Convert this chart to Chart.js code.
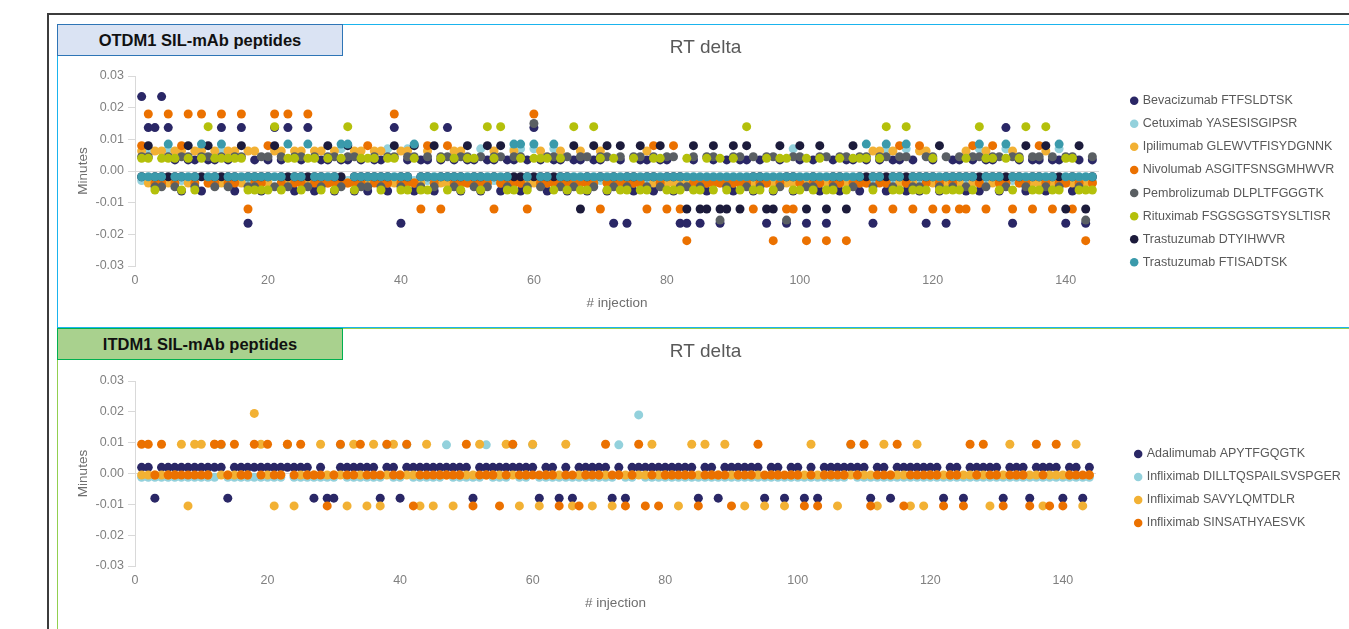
<!DOCTYPE html>
<html>
<head>
<meta charset="utf-8">
<script src="https://cdn.jsdelivr.net/npm/chart.js@4.4.0/dist/chart.umd.min.js"></script>
<style>
html, body { margin: 0; padding: 0; width: 1349px; height: 629px; overflow: hidden; background: #fff; }
body { font-family: "Liberation Sans", Arial, sans-serif; position: relative; }
#frame { position: absolute; left: 47px; top: 13px; width: 1400px; height: 700px; border: 2px solid #3c3c3c; }
.panel { position: absolute; left: 57px; width: 1320px; overflow: hidden; background: #fff; }
#p1 { top: 24px; height: 302px; border: 1px solid #1ab4ee; }
#p2 { top: 328px; height: 320px; border: 1px solid #92d050; }
.panel canvas { display: block; }
.tag { position: absolute; left: 57px; width: 284px; height: 30px; line-height: 30px; text-align: center;
       font-weight: bold; font-size: 16.5px; color: #111; z-index: 2; }
#t1 { top: 24px; background: #dae3f3; border: 1px solid #2e75b6; }
#t2 { top: 328px; background: #a9d18e; border: 1px solid #00b050; }
</style>
</head>
<body>
<div id="frame"></div>
<div class="panel" id="p1"><canvas id="otdm" width="1300" height="302"></canvas></div>
<div class="tag" id="t1">OTDM1 SIL-mAb peptides</div>
<div class="panel" id="p2"><canvas id="itdm" width="1300" height="300"></canvas></div>
<div class="tag" id="t2">ITDM1 SIL-mAb peptides</div>
<script>
// RT delta (minutes) per injection, one value per injection 1..144

// --- OTDM1 ---
const otdmLabels = ['Bevacizumab FTFSLDTSK', 'Cetuximab YASESISGIPSR', 'Ipilimumab GLEWVTFISYDGNNK',
  'Nivolumab ASGITFSNSGMHWVR', 'Pembrolizumab DLPLTFGGGTK', 'Rituximab FSGSGSGTSYSLTISR',
  'Trastuzumab DTYIHWVR', 'Trastuzumab FTISADTSK'];
const otdmColors = ['#2a2766', '#93d1dc', '#f2b134', '#eb7100', '#5a5f63', '#b4c00b', '#1c1b3b', '#3a9aab'];

const bevacizumab = [
  0.0235,0.0137,0.0137,0.0235,0.0137,0.0035,-0.0063,0.0035,0.0035,-0.0063,0.0035,0.0035,
  0.0137,0.0035,-0.0063,0.0137,-0.0165,0.0035,-0.0063,0.0035,0.0137,0.0035,0.0137,-0.0063,
  0.0035,0.0137,-0.0063,0.0035,0.0035,-0.0063,0.0035,0.0035,-0.0063,0.0035,-0.0063,0.0035,
  0.0035,-0.0063,0.0137,-0.0165,0.0035,-0.0063,0.0035,0.0035,-0.0063,0.0035,0.0137,0.0035,
  -0.0063,0.0035,0.0035,-0.0063,0.0035,0.0035,-0.0063,0.0035,0.0035,-0.0063,0.0035,0.0137,
  0.0035,-0.0063,0.0035,0.0035,-0.0063,0.0035,0.0035,-0.0063,0.0035,0.0035,-0.0063,-0.0165,
  0.0035,-0.0165,-0.0063,0.0035,0.0035,-0.0063,0.0035,0.0035,-0.0063,-0.0165,-0.0165,0.0035,
  -0.0165,-0.0063,0.0035,-0.0165,0.0035,-0.0063,0.0035,0.0035,-0.0063,0.0035,-0.0165,-0.0063,
  0.0035,-0.0165,-0.0063,0.0035,-0.0165,0.0035,-0.0063,-0.0165,0.0035,-0.0063,0.0035,0.0035,
  -0.0063,0.0035,-0.0165,0.0035,-0.0063,0.0035,0.0035,-0.0063,0.0035,-0.0063,-0.0165,0.0035,
  -0.0063,-0.0165,0.0035,0.0035,-0.0063,0.0035,-0.0063,0.0035,0.0035,-0.0063,0.0137,-0.0165,
  0.0035,-0.0063,0.0035,0.0035,-0.0063,0.0035,0.0035,-0.0165,-0.0063,0.0035,-0.0165,0.0035];

const cetuximab = [
  -0.003,0.007,-0.003,-0.003,0.007,-0.003,-0.003,-0.003,-0.003,0.007,-0.003,-0.003,
  0.007,-0.003,-0.003,-0.003,-0.003,-0.003,-0.003,-0.003,0.007,-0.003,-0.003,-0.003,
  -0.003,-0.003,-0.003,-0.003,-0.003,-0.003,0.007,-0.003,-0.003,-0.003,-0.003,-0.003,
  -0.003,0.007,-0.003,-0.003,0.007,-0.003,-0.003,-0.003,-0.003,-0.003,-0.003,-0.003,
  -0.003,-0.003,-0.003,0.007,-0.003,-0.003,-0.003,-0.003,0.007,0.007,-0.003,0.007,
  -0.003,-0.003,0.007,-0.003,-0.003,-0.003,-0.003,-0.003,-0.003,-0.003,-0.003,-0.003,
  -0.003,-0.003,-0.003,-0.003,-0.003,-0.003,-0.003,-0.003,-0.003,-0.003,-0.003,-0.003,
  -0.003,-0.003,-0.003,-0.003,-0.003,-0.003,-0.003,-0.003,-0.003,-0.003,-0.003,-0.003,
  -0.003,-0.003,0.007,-0.003,-0.003,-0.003,-0.003,-0.003,-0.003,-0.003,-0.003,-0.003,
  -0.003,-0.003,-0.003,-0.003,0.007,-0.003,-0.003,0.007,-0.003,-0.003,-0.003,-0.003,
  -0.003,-0.003,-0.003,-0.003,-0.003,-0.003,0.007,-0.003,-0.003,-0.003,0.007,-0.003,
  -0.003,-0.003,-0.003,-0.003,-0.003,-0.003,0.007,-0.003,-0.003,-0.003,-0.003,-0.003];

const ipilimumab = [
  0.0063,-0.0038,0.0063,0.0063,-0.0038,0.0063,0.0063,-0.0038,0.0063,0.0063,-0.0038,0.0063,
  -0.0038,0.0063,0.0063,-0.0038,0.0063,0.0063,-0.0038,-0.0038,0.0063,0.0063,-0.0038,0.0063,
  0.0063,-0.0038,0.0063,0.0063,-0.0038,0.0063,-0.0038,-0.0038,0.0063,0.0063,-0.0038,0.0063,
  0.0063,-0.0038,-0.0038,0.0063,0.0063,-0.0038,-0.0038,0.0063,-0.0038,-0.0038,-0.0038,0.0063,
  0.0063,-0.0038,-0.0038,-0.0038,-0.0038,0.0063,-0.0038,-0.0038,0.0063,-0.0038,-0.0038,-0.0038,
  0.0063,-0.0038,-0.0038,0.0063,-0.0038,-0.0038,0.0063,-0.0038,-0.0038,0.0063,-0.0038,-0.0038,
  -0.0038,-0.0038,-0.0038,-0.0038,0.0063,-0.0038,-0.0038,-0.0038,-0.0038,-0.0038,-0.0038,-0.0038,
  -0.0038,-0.0038,-0.0038,-0.0038,-0.0038,-0.0038,-0.0038,-0.0038,-0.0038,-0.0038,-0.0038,-0.0038,
  -0.0038,-0.0038,-0.0038,-0.0038,-0.0038,-0.0038,-0.0038,-0.0038,-0.0038,-0.0038,-0.0038,-0.0038,
  -0.0038,-0.0038,0.0063,0.0063,-0.0038,0.0063,-0.0038,-0.0038,-0.0038,0.0063,0.0063,-0.0038,
  -0.0038,-0.0038,-0.0038,-0.0038,0.0063,-0.0038,-0.0038,0.0063,-0.0038,-0.0038,-0.0038,0.0063,
  -0.0038,-0.0038,-0.0038,-0.0038,0.0063,-0.0038,-0.0038,-0.0038,-0.0038,-0.0038,-0.0038,-0.0038];

const nivolumab = [
  0.008,0.018,-0.0038,-0.0038,0.018,-0.0038,0.008,0.018,-0.0038,0.018,-0.0038,-0.0038,
  0.018,-0.0038,-0.0038,0.018,-0.012,-0.0038,-0.0038,0.008,0.018,-0.0038,0.018,-0.0038,
  -0.0038,0.018,-0.0038,-0.0038,-0.0038,-0.0038,-0.0038,-0.0038,-0.0038,-0.0038,0.008,-0.0038,
  -0.0038,-0.0038,0.018,-0.0038,-0.0038,-0.0038,-0.012,0.008,-0.0038,-0.012,0.008,-0.0038,
  -0.0038,-0.0038,-0.0038,-0.0038,-0.0038,-0.012,-0.0038,-0.0038,-0.0038,-0.0038,-0.012,0.018,
  -0.0038,-0.0038,-0.0038,-0.0038,-0.0038,-0.0038,-0.0038,-0.0038,-0.0038,-0.012,-0.0038,-0.0038,
  -0.0038,-0.0038,-0.0038,-0.0038,-0.012,0.008,-0.0038,-0.012,0.008,-0.012,-0.022,-0.0038,
  -0.0038,-0.0038,-0.0038,-0.0038,-0.0038,-0.0038,-0.0038,-0.0038,-0.012,-0.0038,-0.0038,-0.022,
  -0.0038,-0.012,-0.012,-0.0038,-0.022,-0.0038,-0.0038,-0.022,-0.0038,-0.0038,-0.022,-0.0038,
  -0.0038,-0.0038,-0.012,-0.0038,-0.0038,-0.012,0.008,-0.0038,-0.012,0.008,-0.0038,-0.012,
  -0.0038,-0.012,-0.0038,-0.012,-0.012,0.008,-0.0038,-0.012,0.008,-0.0038,-0.0038,-0.012,
  -0.0038,-0.0038,-0.012,0.008,-0.0038,-0.012,-0.0038,-0.0038,-0.012,-0.0038,-0.022,-0.0038];

const pembrolizumab = [
  0.0045,0.0045,-0.005,-0.005,0.0045,-0.005,0.0045,0.0045,-0.005,0.0045,0.0045,-0.005,
  0.0045,-0.005,0.0045,0.0045,-0.005,-0.005,0.0045,0.0045,-0.005,0.0045,-0.005,0.0045,
  0.0045,-0.005,0.0045,-0.005,0.0045,0.0045,-0.005,0.0045,0.0045,-0.005,-0.005,0.0045,
  -0.005,0.0045,0.0045,-0.005,0.0045,0.0045,-0.005,0.0045,-0.005,0.0045,0.0045,-0.005,
  0.0045,0.0045,-0.005,0.0045,-0.005,0.0045,0.0045,-0.005,0.0045,0.0045,-0.005,0.015,
  -0.005,0.0045,0.0045,-0.005,0.0045,-0.005,0.0045,0.0045,-0.005,0.0045,0.0045,-0.005,
  0.0045,-0.005,0.0045,0.0045,-0.005,0.0045,-0.005,0.0045,0.0045,-0.005,-0.005,0.0045,
  -0.005,0.0045,0.0045,-0.0155,-0.005,0.0045,0.0045,-0.005,0.0045,-0.005,0.0045,0.0045,
  -0.005,-0.0155,0.0045,0.0045,-0.005,-0.005,0.0045,0.0045,-0.005,0.0045,0.0045,-0.005,
  0.0045,0.0045,-0.005,0.0045,0.0045,-0.005,0.0045,0.0045,-0.005,-0.005,0.0045,0.0045,
  -0.005,0.0045,-0.005,0.0045,-0.005,0.0045,0.0045,-0.005,0.0045,0.0045,-0.005,0.0045,
  0.0045,-0.005,0.0045,0.0045,-0.005,0.0045,-0.005,0.0045,0.0045,-0.005,-0.0155,0.0045];

const rituximab = [
  0.004,0.004,-0.006,0.004,0.004,0.004,-0.006,0.004,-0.006,0.004,0.014,0.004,
  0.004,0.004,0.004,0.004,-0.006,-0.006,-0.006,-0.006,0.014,-0.006,0.004,0.004,
  -0.006,0.004,0.004,-0.006,0.004,-0.006,0.004,0.014,-0.006,0.004,0.004,0.004,
  -0.006,0.004,0.004,-0.006,-0.006,0.004,-0.006,-0.006,0.014,0.004,-0.006,0.004,
  -0.006,0.004,0.004,-0.006,0.014,0.004,0.014,-0.006,-0.006,0.004,-0.006,0.004,
  0.004,0.004,-0.006,0.004,-0.006,0.014,-0.006,-0.006,0.014,0.004,-0.006,0.004,
  -0.006,-0.006,0.004,-0.006,-0.006,0.004,0.004,-0.006,-0.006,-0.006,0.004,-0.006,
  -0.006,0.004,-0.006,0.004,-0.006,0.004,-0.006,0.014,-0.006,-0.006,0.004,-0.006,
  0.004,0.004,-0.006,-0.006,0.004,-0.006,0.004,-0.006,-0.006,0.004,-0.006,0.004,
  0.004,0.004,-0.006,0.004,0.014,-0.006,-0.006,0.014,-0.006,-0.006,-0.006,0.004,
  -0.006,-0.006,-0.006,-0.006,0.004,-0.006,0.014,0.004,0.004,-0.006,0.004,-0.006,
  0.004,0.014,-0.006,-0.006,0.014,-0.006,-0.006,0.004,0.004,-0.006,-0.006,-0.006];

const trastuzumabDTY = [
  -0.0018,0.008,-0.0018,-0.0018,-0.0018,-0.0018,-0.0018,0.008,-0.0018,-0.0018,0.008,-0.0018,
  -0.0018,-0.0018,-0.0018,0.008,-0.0018,-0.0018,-0.0018,-0.0018,0.008,-0.0018,-0.0018,-0.0018,
  -0.0018,-0.0018,-0.0018,-0.0018,0.008,-0.0018,-0.0018,0.008,-0.0018,-0.0018,-0.0018,-0.0018,
  -0.0018,-0.0018,0.008,-0.0018,-0.0018,0.008,-0.0018,-0.0018,0.008,-0.0018,-0.0018,-0.0018,
  -0.0018,0.008,-0.0018,-0.0018,0.008,-0.0018,0.008,-0.0018,-0.0018,-0.0018,-0.0018,-0.0018,
  -0.0018,-0.0018,-0.0018,-0.0018,-0.0018,0.008,-0.012,-0.0018,0.008,-0.0018,0.008,-0.0018,
  0.008,-0.0018,-0.0018,0.008,-0.0018,-0.0018,0.008,-0.0018,-0.0018,-0.0018,-0.012,0.008,
  -0.012,-0.012,0.008,-0.012,-0.012,0.008,-0.012,0.008,-0.0018,-0.0018,-0.012,-0.012,
  0.008,-0.0018,-0.0018,0.008,-0.012,-0.0018,0.008,-0.012,-0.0018,-0.0018,-0.012,0.008,
  -0.0018,-0.0018,-0.0018,-0.0018,-0.0018,-0.0018,-0.0018,-0.0018,-0.0018,-0.0018,-0.0018,-0.0018,
  0.008,-0.0018,-0.0018,-0.0018,-0.0018,-0.0018,-0.0018,-0.0018,-0.0018,-0.0018,-0.0018,-0.0018,
  -0.0018,0.008,-0.0018,-0.0018,0.008,-0.0018,-0.0018,-0.012,-0.0018,0.008,-0.012,-0.0018];

const trastuzumabFTI = [
  -0.0018,-0.0018,-0.0018,-0.0018,0.0085,-0.0018,-0.0018,-0.0018,-0.0018,0.0085,-0.0018,-0.0018,
  0.0085,-0.0018,-0.0018,-0.0018,-0.0018,-0.0018,-0.0018,-0.0018,-0.0018,-0.0018,0.0085,-0.0018,
  -0.0018,0.0085,-0.0018,-0.0018,-0.0018,-0.0018,0.0085,0.0085,-0.0018,-0.0018,-0.0018,-0.0018,
  -0.0018,-0.0018,-0.0018,-0.0018,-0.0018,0.0085,-0.0018,-0.0018,-0.0018,-0.0018,-0.0018,-0.0018,
  -0.0018,-0.0018,-0.0018,-0.0018,-0.0018,-0.0018,-0.0018,-0.0018,0.0085,0.0085,-0.0018,0.0085,
  -0.0018,-0.0018,0.0085,-0.0018,-0.0018,-0.0018,-0.0018,-0.0018,-0.0018,-0.0018,-0.0018,-0.0018,
  -0.0018,-0.0018,-0.0018,-0.0018,-0.0018,-0.0018,-0.0018,-0.0018,-0.0018,-0.0018,-0.0018,-0.0018,
  -0.0018,-0.0018,-0.0018,-0.0018,-0.0018,-0.0018,-0.0018,-0.0018,-0.0018,-0.0018,-0.0018,-0.0018,
  -0.0018,-0.0018,-0.0018,-0.0018,-0.0018,-0.0018,-0.0018,-0.0018,-0.0018,-0.0018,-0.0018,-0.0018,
  -0.0018,0.0085,-0.0018,-0.0018,0.0085,-0.0018,-0.0018,0.0085,-0.0018,-0.0018,-0.0018,-0.0018,
  -0.0018,-0.0018,-0.0018,-0.0018,-0.0018,-0.0018,0.0085,-0.0018,-0.0018,-0.0018,0.0085,-0.0018,
  -0.0018,-0.0018,-0.0018,-0.0018,-0.0018,-0.0018,0.0085,-0.0018,-0.0018,-0.0018,-0.0018,-0.0018];

// --- ITDM1 ---
const itdmLabels = ['Adalimumab APYTFGQGTK', 'Infliximab DILLTQSPAILSVSPGER',
  'Infliximab SAVYLQMTDLR', 'Infliximab SINSATHYAESVK'];
const itdmColors = ['#2a2766', '#93d1dc', '#f2b134', '#eb7100'];

const adalimumab = [
  0.002,0.002,-0.008,0.002,0.002,0.002,0.002,0.002,0.002,0.002,0.002,0.002,
  0.002,-0.008,0.002,0.002,0.002,0.002,0.002,0.002,0.002,0.002,0.002,0.002,
  0.002,0.002,-0.008,0.002,-0.008,-0.008,0.002,0.002,0.002,0.002,0.002,0.002,
  -0.008,0.002,0.002,-0.008,0.002,0.002,0.002,0.002,0.002,0.002,0.002,0.002,
  0.002,0.002,-0.008,0.002,0.002,0.002,0.002,0.002,0.002,0.002,0.002,0.002,
  -0.008,0.002,0.002,-0.008,0.002,-0.008,0.002,0.002,0.002,0.002,0.002,-0.008,
  0.002,-0.008,0.002,0.002,0.002,0.002,0.002,0.002,0.002,0.002,0.002,0.002,
  -0.008,0.002,0.002,-0.008,0.002,0.002,0.002,0.002,0.002,0.002,-0.008,0.002,
  0.002,-0.008,0.002,0.002,-0.008,0.002,-0.008,0.002,0.002,0.002,0.002,0.002,
  0.002,0.002,-0.008,0.002,0.002,-0.008,0.002,0.002,0.002,0.002,0.002,0.002,
  0.002,-0.008,0.002,0.002,-0.008,0.002,0.002,0.002,0.002,0.002,-0.008,0.002,
  0.002,0.002,-0.008,0.002,0.002,0.002,0.002,-0.008,0.002,0.002,-0.008,0.002];

const infliximabDILL = [
  -0.0012,-0.0012,-0.0012,-0.0012,-0.0012,-0.0012,-0.0012,-0.0012,-0.0012,-0.0012,-0.0012,-0.0012,
  0.0093,-0.0012,-0.0012,-0.0012,-0.0012,-0.0012,-0.0012,-0.0012,-0.0012,-0.0012,0.0093,-0.0012,
  -0.0012,-0.0012,-0.0012,-0.0012,-0.0012,-0.0012,0.0093,-0.0012,-0.0012,-0.0012,-0.0012,-0.0012,
  -0.0012,0.0093,-0.0012,-0.0012,0.0093,-0.0012,-0.0012,-0.0012,-0.0012,-0.0012,0.0093,-0.0012,
  -0.0012,-0.0012,-0.0012,-0.0012,0.0093,-0.0012,-0.0012,-0.0012,0.0093,-0.0012,-0.0012,0.0093,
  -0.0012,-0.0012,-0.0012,-0.0012,-0.0012,-0.0012,-0.0012,-0.0012,-0.0012,-0.0012,-0.0012,-0.0012,
  0.0093,-0.0012,-0.0012,0.019,-0.0012,-0.0012,-0.0012,-0.0012,-0.0012,-0.0012,-0.0012,-0.0012,
  -0.0012,-0.0012,-0.0012,-0.0012,-0.0012,-0.0012,-0.0012,-0.0012,-0.0012,-0.0012,-0.0012,-0.0012,
  -0.0012,-0.0012,-0.0012,-0.0012,-0.0012,-0.0012,-0.0012,-0.0012,-0.0012,-0.0012,-0.0012,0.0093,
  -0.0012,-0.0012,-0.0012,-0.0012,-0.0012,-0.0012,-0.0012,-0.0012,-0.0012,-0.0012,-0.0012,-0.0012,
  -0.0012,-0.0012,-0.0012,-0.0012,-0.0012,-0.0012,-0.0012,-0.0012,-0.0012,-0.0012,-0.0012,-0.0012,
  -0.0012,-0.0012,-0.0012,-0.0012,-0.0012,-0.0012,-0.0012,-0.0012,-0.0012,-0.0012,-0.0012,-0.0012];

const infliximabSAV = [
  -0.0005,-0.0005,-0.0005,-0.0005,-0.0005,-0.0005,0.0095,-0.0105,0.0095,0.0095,-0.0005,0.0095,
  -0.0005,-0.0005,-0.0005,-0.0005,-0.0005,0.0195,0.0095,-0.0005,-0.0105,-0.0005,0.0095,-0.0105,
  -0.0005,-0.0005,-0.0005,0.0095,-0.0005,-0.0005,-0.0005,-0.0105,0.0095,-0.0005,-0.0105,0.0095,
  -0.0105,-0.0005,0.0095,-0.0005,-0.0005,-0.0005,-0.0105,0.0095,-0.0105,-0.0005,-0.0005,-0.0105,
  -0.0005,-0.0005,-0.0005,0.0095,-0.0005,-0.0005,-0.0005,0.0095,-0.0005,-0.0105,-0.0005,0.0095,
  -0.0105,-0.0005,-0.0005,-0.0005,0.0095,-0.0105,-0.0005,-0.0005,-0.0105,-0.0005,-0.0005,-0.0105,
  -0.0005,-0.0005,-0.0005,-0.0005,-0.0005,0.0095,-0.0005,-0.0005,-0.0005,-0.0105,-0.0005,0.0095,
  -0.0005,0.0095,-0.0005,-0.0005,0.0095,-0.0005,-0.0005,-0.0105,-0.0005,-0.0005,-0.0105,-0.0005,
  -0.0005,-0.0105,-0.0005,-0.0005,-0.0005,0.0095,-0.0005,-0.0005,-0.0005,-0.0105,-0.0005,-0.0005,
  -0.0005,-0.0005,-0.0005,-0.0105,0.0095,-0.0005,-0.0005,-0.0005,-0.0105,0.0095,-0.0105,-0.0005,
  -0.0005,-0.0005,-0.0005,-0.0005,-0.0005,-0.0005,-0.0005,-0.0005,-0.0105,-0.0005,-0.0005,0.0095,
  -0.0005,-0.0005,-0.0005,-0.0005,-0.0105,-0.0005,-0.0005,-0.0005,-0.0005,0.0095,-0.0105,-0.0005];

const infliximabSIN = [
  0.0095,0.0095,-0.0005,0.0095,-0.0005,-0.0005,-0.0005,-0.0005,-0.0005,-0.0005,-0.0005,0.0095,
  0.0095,-0.0005,0.0095,-0.0005,-0.0005,0.0095,-0.0005,0.0095,-0.0005,-0.0005,0.0095,-0.0005,
  0.0095,-0.0005,-0.0005,-0.0005,-0.0105,-0.0005,0.0095,-0.0005,-0.0005,0.0095,-0.0005,-0.0005,
  -0.0005,0.0095,-0.0005,-0.0005,0.0095,-0.0105,-0.0005,-0.0005,-0.0005,-0.0005,-0.0005,-0.0005,
  -0.0005,0.0095,-0.0105,-0.0005,-0.0005,-0.0005,-0.0105,-0.0005,0.0095,-0.0005,-0.0005,-0.0005,
  -0.0005,-0.0005,-0.0005,-0.0105,-0.0005,-0.0005,-0.0105,-0.0005,-0.0005,-0.0005,0.0095,-0.0005,
  -0.0005,-0.0105,-0.0005,0.0095,-0.0105,-0.0005,-0.0105,-0.0005,-0.0005,-0.0005,-0.0005,-0.0005,
  -0.0105,-0.0005,-0.0005,-0.0005,-0.0005,-0.0105,-0.0005,-0.0005,-0.0005,0.0095,-0.0005,-0.0005,
  -0.0005,-0.0005,-0.0005,-0.0005,-0.0105,-0.0005,-0.0105,-0.0005,-0.0005,-0.0005,-0.0005,0.0095,
  -0.0005,0.0095,-0.0105,-0.0005,-0.0005,-0.0005,0.0095,-0.0105,-0.0005,-0.0005,-0.0005,-0.0005,
  -0.0005,-0.0105,-0.0005,-0.0005,-0.0105,0.0095,-0.0005,0.0095,-0.0005,-0.0005,-0.0105,-0.0005,
  -0.0005,-0.0005,-0.0105,0.0095,-0.0005,-0.0105,0.0095,-0.0105,-0.0005,-0.0005,-0.0005,-0.0005];

const FONT = '"Liberation Sans", Arial, sans-serif';
Chart.defaults.font.family = FONT;
const CW = 1300;
const TITLE_CENTER = 647.5;   // canvas x of the "RT delta" title
const PLOT_LEFT = 77;         // canvas x of the y axis
const BOX_W = 4.5, LEG_FONT = 12.5;

function makeChart(id, labels, series, colors, o) {
  const n = series.length;
  // lay holds layout numbers, refined after the first layout pass
  const lay = { right: 10, left: 0, gap: 20 };
  const chart = new Chart(document.getElementById(id), {
    type: 'scatter',
    data: {
      datasets: series.map((vals, i) => ({
        label: labels[i],
        data: vals.map((v, k) => ({ x: k + 1, y: v })),
        backgroundColor: colors[i],
        borderColor: colors[i],
        borderWidth: 0,
        pointRadius: 4.5,
        pointHoverRadius: 4.5,
        pointStyle: 'circle',
        order: n - i
      }))
    },
    options: {
      responsive: false,
      animation: false,
      events: [],
      layout: { padding: { left: 0, top: 0, right: 10, bottom: o.padBottom } },
      plugins: {
        title: { display: true, text: 'RT delta', color: '#595959',
                 font: { size: 19, weight: 'normal' }, padding: { top: 11, bottom: o.titleGap } },
        legend: {
          position: 'right', align: 'start', maxWidth: 400,
          title: { display: true, text: '', font: { size: 1 }, padding: { top: o.legendTop, bottom: 0 } },
          labels: { usePointStyle: true, pointStyle: 'circle', boxWidth: BOX_W, boxHeight: 6,
                    padding: o.legendPad, color: '#595959', font: { size: LEG_FONT },
                    sort: (a, b) => a.datasetIndex - b.datasetIndex }
        },
        tooltip: { enabled: false }
      },
      scales: {
        x: {
          type: 'linear', min: 0, max: 145,
          ticks: { stepSize: 20, includeBounds: false, autoSkip: false, maxRotation: 0,
                   color: '#808080', font: { size: 12.5 }, padding: 7.5 },
          afterBuildTicks: s => { s.ticks = s.ticks.filter(t => t.value % 20 === 0); },
          afterFit: s => { s.height = 45; },
          grid: { display: false, drawTicks: false }, border: { display: false },
          title: { display: true, text: '# injection', color: '#6e6e6e', font: { size: 13.5 },
                   padding: { top: 5.4, bottom: 0 } }
        },
        y: {
          min: -0.03, max: 0.03,
          ticks: { stepSize: 0.01, color: '#808080', font: { size: 12.5 }, padding: 4,
                   callback: v => Math.abs(v) < 1e-9 ? '0.00' : v.toFixed(2) },
          grid: { color: c => (c.tick && Math.abs(c.tick.value) < 1e-9) ? '#d9d9d9' : 'rgba(0,0,0,0)',
                  tickColor: '#d9d9d9', tickLength: 7 },
          border: { display: true, color: '#d9d9d9' },
          title: { display: true, text: 'Minutes', color: '#6e6e6e', font: { size: 13.5 },
                   padding: { top: 17, bottom: 0 } },
          afterFit: s => { s.width = PLOT_LEFT - lay.left; }
        },
        gap: {
          type: 'linear', position: 'right', display: true,
          ticks: { display: false }, grid: { display: false }, border: { display: false },
          afterFit: s => { s.width = lay.gap; }
        }
      }
    }
  });

  // second pass: put the legend text and the plot's right edge where the reference has them
  const textNow = chart.legend.legendHitBoxes[0].left + BOX_W + LEG_FONT / 2;
  const dx = textNow - o.textLeft;
  lay.right += dx;
  lay.gap += (chart.chartArea.right - dx) - o.chartRight;
  const boxRight = CW - lay.right;
  lay.left = Math.max(0, Math.min(PLOT_LEFT - 20, 2 * TITLE_CENTER - boxRight));
  chart.options.layout.padding = { left: lay.left, top: 0, right: lay.right, bottom: o.padBottom };
  chart.options.scales.y.title.padding = { top: Math.max(0, 17 - lay.left), bottom: 0 };
  chart.update();
  return chart;
}

makeChart('otdm', otdmLabels,
  [bevacizumab, cetuximab, ipilimumab, nivolumab, pembrolizumab, rituximab, trastuzumabDTY, trastuzumabFTI],
  otdmColors,
  { textLeft: 1084.7, chartRight: 1041, legendPad: 10.6, legendTop: 57.6, padBottom: 16, titleGap: 17.2 });

makeChart('itdm', itdmLabels,
  [adalimumab, infliximabDILL, infliximabSAV, infliximabSIN],
  itdmColors,
  { textLeft: 1088.7, chartRight: 1038, legendPad: 10.5, legendTop: 107, padBottom: 18, titleGap: 18.2 });
</script>
</body>
</html>
